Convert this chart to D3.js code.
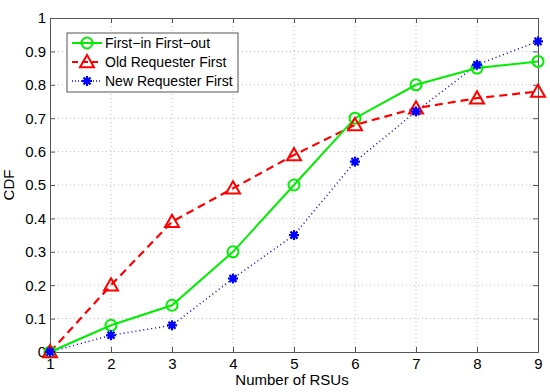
<!DOCTYPE html>
<html><head><meta charset="utf-8">
<script src="https://cdn.jsdelivr.net/npm/d3@7"></script>
<style>body{margin:0;background:#fff}svg{display:block}text{font-family:"Liberation Sans",Arial,sans-serif}</style>
</head><body><svg id="c" width="550" height="392"></svg>
<script>
const xValues = [1,2,3,4,5,6,7,8,9];
const fifo = [0,0.08,0.14,0.30,0.50,0.70,0.80,0.85,0.87];
const orf = [0,0.20,0.39,0.49,0.59,0.68,0.73,0.76,0.78];
const nrf = [0,0.05,0.08,0.22,0.35,0.57,0.72,0.86,0.93];
const xTicks = [1,2,3,4,5,6,7,8,9];
const yTicks = [0,0.1,0.2,0.3,0.4,0.5,0.6,0.7,0.8,0.9,1];
const seriesNames = ["First\u2212in First\u2212out","Old Requester First","New Requester First"];

const svg = d3.select("#c");
const L=50,R=538,T=18,B=352;
const x = d3.scaleLinear().domain([1,9]).range([L,R]);
const y = d3.scaleLinear().domain([0,1]).range([B,T]);

// grid
const g = svg.append("g");
xTicks.forEach(t=>{ if(t>1&&t<9) g.append("line").attr("x1",x(t)).attr("x2",x(t)).attr("y1",T).attr("y2",B).attr("stroke","#bbb").attr("stroke-width",1).attr("stroke-dasharray","1,3");});
yTicks.forEach(t=>{ if(t>0&&t<1) g.append("line").attr("x1",L).attr("x2",R).attr("y1",y(t)).attr("y2",y(t)).attr("stroke","#bbb").attr("stroke-width",1).attr("stroke-dasharray","1,3");});

// axes
const fmt = d=> d===0?"0":(d===1?"1":d3.format(".1f")(d));
const ax = svg.append("g").attr("transform",`translate(0,${B})`).call(d3.axisBottom(x).tickValues(xTicks).tickSize(-5).tickPadding(6).tickFormat(d3.format("d")));
const ay = svg.append("g").attr("transform",`translate(${L},0)`).call(d3.axisLeft(y).tickValues(yTicks).tickSize(-5).tickPadding(4).tickFormat(fmt));
const axT = svg.append("g").attr("transform",`translate(0,${T})`).call(d3.axisTop(x).tickValues(xTicks).tickSize(-5).tickFormat(""));
const ayR = svg.append("g").attr("transform",`translate(${R},0)`).call(d3.axisRight(y).tickValues(yTicks).tickSize(-5).tickFormat(""));
[ax,ay,axT,ayR].forEach(a=>{a.selectAll("path").attr("stroke","#555").attr("stroke-width",1);a.selectAll(".tick line").attr("stroke","#555");a.selectAll("text").attr("font-size",15).attr("fill","#000").style("font-family","'Liberation Sans',Arial,sans-serif");});

svg.append("text").attr("x",(L+R)/2-2).attr("y",385).attr("text-anchor","middle").attr("font-size",15).text("Number of RSUs");
svg.append("text").attr("transform",`translate(14,${(T+B)/2}) rotate(-90)`).attr("text-anchor","middle").attr("font-size",15).text("CDF");

const line = d3.line().x((d,i)=>x(xValues[i])).y(d=>y(d));
const plot = svg.append("g");

function circ(sel,cx,cy){sel.append("circle").attr("cx",cx).attr("cy",cy).attr("r",5.5).attr("fill","none").attr("stroke","#00ee00").attr("stroke-width",2);}
function tri(sel,cx,cy){const s=7;sel.append("path").attr("d",`M${cx},${cy-s}L${cx+s},${cy+s*0.75}L${cx-s},${cy+s*0.75}Z`).attr("fill","none").attr("stroke","#ff0000").attr("stroke-width",2);}
function star(sel,cx,cy){const s=5;const gg=sel.append("g").attr("stroke","#0000ff").attr("stroke-width",2.2);
  [0,45,90,135].forEach(a=>{const r=a*Math.PI/180;gg.append("line").attr("x1",cx-s*Math.cos(r)).attr("y1",cy-s*Math.sin(r)).attr("x2",cx+s*Math.cos(r)).attr("y2",cy+s*Math.sin(r));});
  sel.append("circle").attr("cx",cx).attr("cy",cy).attr("r",3.2).attr("fill","#0000ff");}

plot.append("path").datum(nrf).attr("d",line).attr("fill","none").attr("stroke","#0000ff").attr("stroke-width",1.5).attr("stroke-dasharray","1,3");
plot.append("path").datum(orf).attr("d",line).attr("fill","none").attr("stroke","#ff0000").attr("stroke-width",2.2).attr("stroke-dasharray","8,5");
plot.append("path").datum(fifo).attr("d",line).attr("fill","none").attr("stroke","#00ee00").attr("stroke-width",2);
fifo.forEach((v,i)=>circ(plot,x(xValues[i]),y(v)));
orf.forEach((v,i)=>tri(plot,x(xValues[i]),y(v)));
nrf.forEach((v,i)=>star(plot,x(xValues[i]),y(v)));

// legend
const lg = svg.append("g");
lg.append("rect").attr("x",67).attr("y",33).attr("width",171).attr("height",59).attr("fill","#fff").attr("stroke","#555").attr("stroke-width",1);
const rows=[43,62,81];
const lx1=72,lx2=102,lm=87;
lg.append("line").attr("x1",lx1).attr("x2",lx2).attr("y1",rows[0]).attr("y2",rows[0]).attr("stroke","#00ee00").attr("stroke-width",2);
circ(lg,lm,rows[0]);
lg.append("line").attr("x1",lx1).attr("x2",lx2).attr("y1",rows[1]).attr("y2",rows[1]).attr("stroke","#ff0000").attr("stroke-width",2.2).attr("stroke-dasharray","6,4");
tri(lg,lm,rows[1]);
lg.append("line").attr("x1",lx1).attr("x2",lx2).attr("y1",rows[2]).attr("y2",rows[2]).attr("stroke","#0000ff").attr("stroke-width",1.5).attr("stroke-dasharray","1,2");
star(lg,lm,rows[2]);
seriesNames.forEach((n,i)=>lg.append("text").attr("x",105).attr("y",rows[i]+5).attr("font-size",14).attr("textLength",i===0?null:null).text(n));
</script></body></html>
